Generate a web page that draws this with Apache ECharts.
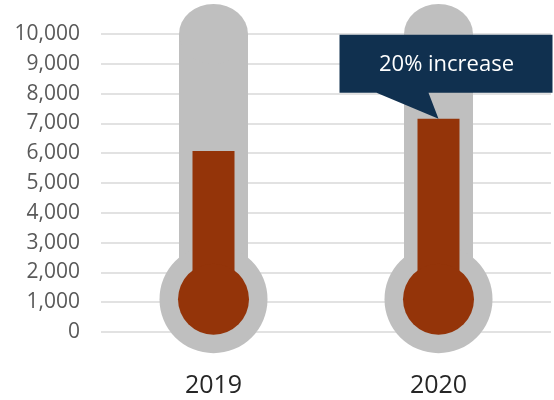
<!DOCTYPE html>
<html><head><meta charset="utf-8">
<script src="https://cdn.jsdelivr.net/npm/echarts@6/dist/echarts.min.js"></script>
<style>html,body{margin:0;padding:0;background:#fff}#c{width:554px;height:400px}</style>
</head><body><div id="c"></div>
<script>
var categories = ['2019', '2020'];
var actualValues = [6070, 7160];
var tubeMax = [10000, 10000];
var bulbLevel = [1100, 1100];
var yTicks = [0, 1000, 2000, 3000, 4000, 5000, 6000, 7000, 8000, 9000, 10000];
var calloutText = '20% increase';

var GRAY = '#bfbfbf', BROWN = '#943409', NAVY = '#10304f';
var chart = echarts.init(document.getElementById('c'), null, {renderer: 'canvas'});
var option = {
  animation: false,
  grid: {left: 101, right: 3, top: 34, bottom: 68},
  xAxis: [
    {type: 'category', data: categories, axisLine: {show: false}, axisTick: {show: false},
     axisLabel: {margin: 41, fontSize: 25, color: '#262626', fontFamily: 'Open Sans'}},
    {type: 'category', data: categories, show: false}
  ],
  yAxis: {type: 'value', min: yTicks[0], max: yTicks[yTicks.length - 1], interval: yTicks[1] - yTicks[0],
    axisLine: {show: false}, axisTick: {show: false},
    splitLine: {lineStyle: {color: '#d9d9d9', width: 1.5}},
    axisLabel: {margin: 21, fontSize: 21, color: '#595959', fontFamily: 'Open Sans',
      formatter: function (v) { return v.toLocaleString('en-US'); }}
  },
  series: [
    {type: 'bar', xAxisIndex: 0, data: tubeMax, barWidth: 69, itemStyle: {color: GRAY, opacity: 1}, z: 1, silent: true},
    {type: 'scatter', xAxisIndex: 0, data: categories.map(function (c, i) { return [c, tubeMax[i]]; }),
     symbol: 'circle', symbolSize: [69, 60], itemStyle: {color: GRAY, opacity: 1}, z: 1, silent: true},
    {type: 'scatter', xAxisIndex: 0, data: categories.map(function (c, i) { return [c, bulbLevel[i]]; }),
     symbol: 'circle', symbolSize: 108, itemStyle: {color: GRAY, opacity: 1}, z: 1, silent: true},
    {type: 'bar', xAxisIndex: 1, stack: 'fill', data: bulbLevel, barWidth: 42,
     itemStyle: {color: 'rgba(0,0,0,0)'}, z: 3, silent: true},
    {type: 'bar', xAxisIndex: 1, stack: 'fill', data: actualValues.map(function (v, i) { return v - bulbLevel[i]; }),
     barWidth: 42, itemStyle: {color: BROWN, opacity: 1}, z: 3, silent: true},
    {type: 'scatter', xAxisIndex: 0, data: categories.map(function (c, i) { return [c, bulbLevel[i]]; }),
     symbol: 'circle', symbolSize: 71, itemStyle: {color: BROWN, opacity: 1}, z: 3, silent: true}
  ]
};
chart.setOption(option);
var tip = chart.convertToPixel({xAxisIndex: 1, yAxisIndex: 0}, [categories[1], actualValues[1]]);
var tx = tip[0], ty = tip[1];
chart.setOption({
  graphic: [
    {type: 'polygon', z: 100, shape: {points: [
      [tx - 99, ty - 84], [tx + 114, ty - 84], [tx + 114, ty - 26], [tx - 10, ty - 26],
      [tx, ty], [tx - 62, ty - 26], [tx - 99, ty - 26]
    ]}, style: {fill: NAVY}},
    {type: 'text', z: 101, x: tx + 8, y: ty - 54, style: {text: calloutText, fill: '#fff',
      font: '22px "Open Sans"', textAlign: 'center', textVerticalAlign: 'middle'}}
  ]
});
</script></body></html>
